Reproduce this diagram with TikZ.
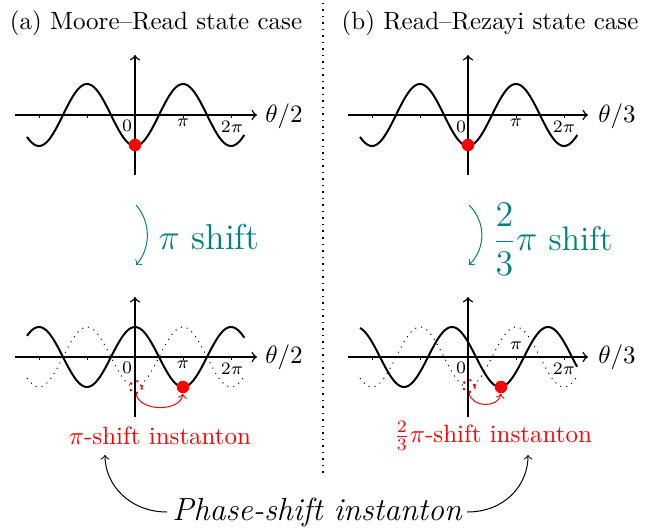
\documentclass[tikz,border=0pt]{standalone}
\usepackage{amsmath}
\definecolor{tealc}{RGB}{0,128,128}
\begin{document}
\begin{tikzpicture}[x=0.4pt,y=-0.4pt,
  axis/.style={semithick,->},
  curve/.style={thick},
  ghost/.style={dotted,thin},
  tick/.style={thin},
  ticklab/.style={font=\scriptsize,inner sep=0pt},
  reddot/.style={circle,fill=red,inner sep=0pt,minimum size=5pt},
  ghostdot/.style={circle,draw=red,dotted,thick,inner sep=0pt,minimum size=4.8pt},
  redarrow/.style={red,->},
  shiftarrow/.style={tealc,->},
  shiftlab/.style={tealc,font=\Large,inner sep=0pt},
  inst/.style={red,inner sep=1pt},
  title/.style={inner sep=0pt}]
\useasboundingbox (0,0) rectangle (665,531);

% titles and divider
\node[title] (ta) at (156,23) {(a) Moore--Read state case};
\node[title] (tb) at (490,23) {(b) Read--Rezayi state case};
\coordinate (dtop) at (323,3);
\coordinate (dbot) at (323,477);
\draw[dotted,semithick] (dtop) -- (dbot);

% ---------- top left ----------
\coordinate (h1l) at (15,115); \coordinate (h1r) at (257,115);
\coordinate (v1b) at (135,175); \coordinate (v1t) at (135,55);
\draw[axis] (h1l) -- (h1r);
\draw[axis] (v1b) -- (v1t);
\foreach \k in {-2,-1,1,2} \draw[tick] ({135+48*\k},115) -- ({135+48*\k},118);
\draw[curve] plot[domain=-405:410,samples=120,smooth] ({135+\x*0.266667},{115+31*cos(\x)});
\node[ticklab] (z1) at (127,126) {$0$};
\node[ticklab] (p1) at (183,123) {$\pi$};
\node[ticklab] (pp1) at (232,127) {$2\pi$};
\node[inner sep=0pt] (l1) at (284,116) {$\theta/2$};
\node[reddot] (d1) at (135,145) {};

% ---------- top right ----------
\coordinate (h2l) at (348,115); \coordinate (h2r) at (588,115);
\coordinate (v2b) at (468,175); \coordinate (v2t) at (468,55);
\draw[axis] (h2l) -- (h2r);
\draw[axis] (v2b) -- (v2t);
\foreach \k in {-2,-1,1,2} \draw[tick] ({468+48*\k},115) -- ({468+48*\k},118);
\draw[curve] plot[domain=-405:410,samples=120,smooth] ({468+\x*0.266667},{115+31*cos(\x)});
\node[ticklab] (z2) at (461,127) {$0$};
\node[ticklab] (p2) at (516,123) {$\pi$};
\node[ticklab] (pp2) at (564,127) {$2\pi$};
\node[inner sep=0pt] (l2) at (617,116) {$\theta/3$};
\node[reddot] (d2) at (468,145) {};

% ---------- shift arrows ----------
\coordinate (sa1) at (136,205); \coordinate (sb1) at (136,265);
\draw[shiftarrow] (sa1) .. controls (151,222) and (151,248) .. (sb1);
\node[shiftlab,anchor=west] (s1) at (158,237) {$\pi$ shift};
\coordinate (sa2) at (469,205); \coordinate (sb2) at (469,265);
\draw[shiftarrow] (sa2) .. controls (486,222) and (486,248) .. (sb2);
\node[shiftlab,anchor=west,font=\fontsize{13.6}{16}\selectfont] (s2) at (492,239) {$\dfrac{2}{3}\pi$ shift};

% ---------- bottom left ----------
\coordinate (h3l) at (15,357); \coordinate (h3r) at (257,357);
\coordinate (v3b) at (135,417); \coordinate (v3t) at (135,297);
\draw[axis] (h3l) -- (h3r);
\draw[axis] (v3b) -- (v3t);
\foreach \k in {-2,-1,1,2} \draw[tick] ({135+48*\k},357) -- ({135+48*\k},360);
\draw[ghost] plot[domain=-405:410,samples=120,smooth] ({135+\x*0.266667},{357+30*cos(\x)});
\draw[curve] plot[domain=-405:410,samples=120,smooth] ({135+\x*0.266667},{357-30*cos(\x)});
\node[ticklab] (z3) at (127,368) {$0$};
\node[ticklab] (p3) at (183,365) {$\pi$};
\node[ticklab] (pp3) at (232,369) {$2\pi$};
\node[inner sep=0pt] (l3) at (284,357) {$\theta/2$};
\node[ghostdot] (g3) at (136,387) {};
\node[reddot] (d3) at (183,387) {};
\draw[redarrow] (g3.south) .. controls (140,412) and (180,412) .. (d3.south);
\node[inst] (i3) at (160,436) {$\pi$-shift instanton};

% ---------- bottom right ----------
\coordinate (h4l) at (348,357); \coordinate (h4r) at (588,357);
\coordinate (v4b) at (468,417); \coordinate (v4t) at (468,297);
\draw[axis] (h4l) -- (h4r);
\draw[axis] (v4b) -- (v4t);
\foreach \k in {-2,-1,1,2} \draw[tick] ({468+48*\k},357) -- ({468+48*\k},360);
\draw[ghost] plot[domain=-405:410,samples=120,smooth] ({468+\x*0.266667},{357+30*cos(\x)});
\draw[curve] plot[domain=-405:409,samples=120,smooth] ({468+\x*0.266667},{357+30*cos(\x-120)});
\node[ticklab] (z4) at (461,368) {$0$};
\node[ticklab] (p4) at (516,346) {$\pi$};
\node[ticklab] (pp4) at (564,369) {$2\pi$};
\node[inner sep=0pt] (l4) at (617,357) {$\theta/3$};
\node[ghostdot] (g4) at (469,386) {};
\node[reddot] (d4) at (501,387) {};
\draw[redarrow] (g4.south) .. controls (472,408) and (498,408) .. (d4.south);
\node[inst] (i4) at (493,436) {$\frac{2}{3}\pi$-shift instanton};

% ---------- bottom label ----------
\node[font=\fontsize{12.8}{15}\selectfont\itshape,inner sep=2pt] (ph) at (317,512) {Phase-shift instanton};
\coordinate (al) at (105,455);
\coordinate (ar) at (528,455);
\draw[->] (ph.west) .. controls (130,512) and (105,485) .. (al);
\draw[->] (ph.east) .. controls (505,512) and (528,485) .. (ar);
\end{tikzpicture}
\end{document}
